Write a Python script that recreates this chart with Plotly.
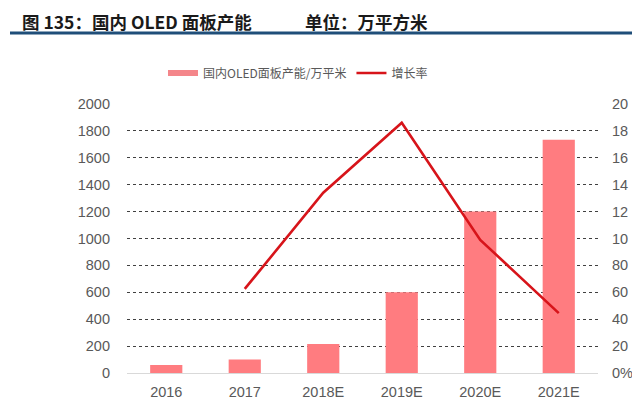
import plotly.graph_objects as go

# { data
years = ['2016', '2017', '2018E', '2019E', '2020E', '2021E']
capacity = [60, 100, 215, 600, 1200, 1735]          # 万平米
growth = [None, 62.5, 134, 186, 99, 44.5]             # %
right_ticks = [0, 20, 40, 60, 80, 100, 120, 140, 160, 180, 200]
right_labels = ['0%', '20', '40', '60', '80', '10', '12', '14', '16', '18', '20']
# }

# the page body adds an 8px offset, so work in figure pixels = screen - 8
OFF = 8
W, H = 640 - OFF, 412 - OFF
L, R, T, B = 127 - OFF, 598 - OFF, 104 - OFF, 373 - OFF


def px(x):
    return (x - OFF - L) / (R - L)


def py(y):
    return (B - (y - OFF)) / (B - T)


fig = go.Figure()

fig.add_trace(go.Bar(x=years, y=capacity,
                     marker=dict(color='#FF7C80', line=dict(width=0)),
                     name='国内OLED面板产能/万平米',
                     showlegend=False))

# legend-only swatch so the bar key looks like a wide strip
fig.add_trace(go.Scatter(x=[None], y=[None], mode='lines',
                         line=dict(color='#F4868A', width=6),
                         name='国内OLED面板产能/万平米'))

fig.add_trace(go.Scatter(x=years, y=growth, yaxis='y2', mode='lines',
                         line=dict(color='#D7141A', width=2.6),
                         name='增长率'))

tick_font = dict(size=14.5, color='#595959')

fig.update_layout(
    width=W, height=H,
    margin=dict(l=L, r=W - R, t=T, b=H - B, autoexpand=False),
    paper_bgcolor='white', plot_bgcolor='white',
    font=dict(family='Liberation Sans, Arial, sans-serif', color='#595959', size=13),
    bargap=0.59,
    showlegend=True,
    legend=dict(orientation='h', xref='container', yref='container',
                x=(163 - OFF) / W, y=1 - (73 - OFF) / H, xanchor='left', yanchor='middle',
                font=dict(family='Noto Sans CJK SC', size=12, color='#595959'),
                itemwidth=30, tracegroupgap=0, bgcolor='rgba(0,0,0,0)'),
    xaxis=dict(showgrid=False, showline=True, linecolor='#D9D9D9', linewidth=1,
               automargin=False, ticks='', tickfont=tick_font, ticklabelstandoff=6),
    yaxis=dict(range=[0, 2000], dtick=200, showgrid=True, gridcolor='#404040',
               griddash='dot', gridwidth=1, zeroline=False, ticks='', automargin=False,
               tickfont=tick_font, ticklabelstandoff=16),
    yaxis2=dict(range=[0, 200], overlaying='y', side='right', showgrid=False,
                zeroline=False, tickvals=right_ticks, ticktext=right_labels, ticks='',
                automargin=False, tickfont=tick_font, ticklabelstandoff=13),
)

title_font = dict(family='Noto Sans CJK SC', size=17.5, color='#1a1a1a')
fig.add_annotation(text='<b>图 135：国内 OLED 面板产能</b>', xref='paper', yref='paper',
                   x=px(21), y=py(OFF), xanchor='left', yanchor='top', showarrow=False,
                   borderpad=0, font=title_font)
fig.add_annotation(text='<b>单位：万平方米</b>', xref='paper', yref='paper',
                   x=px(304), y=py(OFF), xanchor='left', yanchor='top', showarrow=False,
                   borderpad=0, font=title_font)

fig.add_shape(type='line', xref='paper', yref='paper',
              x0=px(10), x1=px(640), y0=py(33), y1=py(33),
              line=dict(color='#1F4E79', width=3))

fig.write_html("out.html")
